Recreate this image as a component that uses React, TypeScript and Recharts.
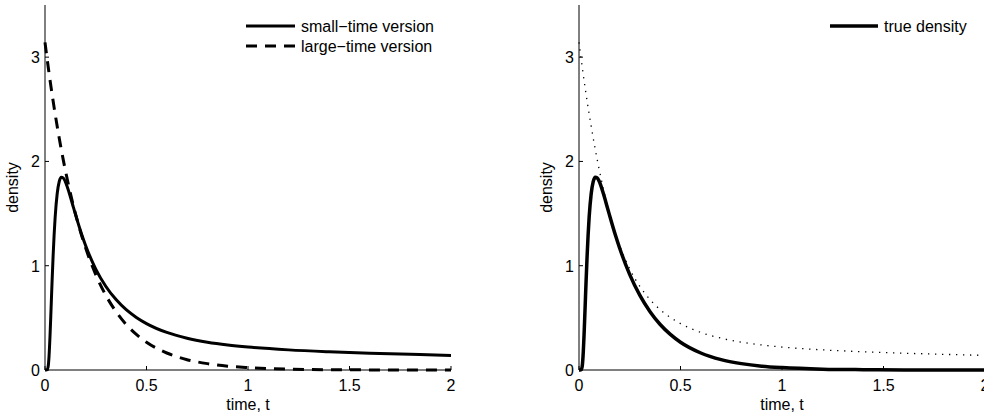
import React from "react"
import { LineChart, Line, XAxis, YAxis, Legend } from "recharts"

// time grid and densities
const tValues = [
  0, 0.005, 0.01, 0.015, 0.02, 0.025, 0.03, 0.035, 0.04, 0.045, 0.05, 0.06, 0.07, 0.08, 0.09, 0.1,
  0.12, 0.14, 0.16, 0.18, 0.2, 0.25, 0.3, 0.35, 0.4, 0.45, 0.5, 0.6, 0.7, 0.8, 0.9, 1.0, 1.2, 1.4,
  1.6, 1.8, 2.0,
]
const smallTime = [
  0, 0, 0.001, 0.026, 0.136, 0.34, 0.595, 0.857, 1.096, 1.299, 1.465, 1.69, 1.806, 1.848, 1.842,
  1.807, 1.693, 1.559, 1.427, 1.304, 1.194, 0.968, 0.801, 0.675, 0.578, 0.504, 0.445, 0.36, 0.305,
  0.267, 0.24, 0.22, 0.193, 0.175, 0.161, 0.15, 0.14,
]
const largeTime = [
  3.142, 3.065, 2.99, 2.918, 2.846, 2.777, 2.709, 2.643, 2.579, 2.516, 2.455, 2.337, 2.224, 2.117,
  2.015, 1.918, 1.738, 1.574, 1.427, 1.292, 1.171, 0.915, 0.715, 0.559, 0.436, 0.341, 0.266, 0.163,
  0.099, 0.061, 0.037, 0.023, 0.008, 0.003, 0.001, 0.0004, 0.0002,
]
const trueDensity = [
  0, 0, 0.001, 0.026, 0.136, 0.34, 0.595, 0.857, 1.096, 1.299, 1.465, 1.69, 1.806, 1.848, 1.842,
  1.807, 1.692, 1.556, 1.419, 1.289, 1.17, 0.915, 0.715, 0.559, 0.436, 0.341, 0.266, 0.163, 0.099,
  0.061, 0.037, 0.023, 0.008, 0.003, 0.001, 0.0004, 0.0002,
]
const upperEnvelope = [
  3.142, 3.065, 2.99, 2.918, 2.846, 2.777, 2.709, 2.643, 2.579, 2.516, 2.455, 2.337, 2.224, 2.117,
  2.015, 1.918, 1.738, 1.574, 1.427, 1.304, 1.194, 0.968, 0.801, 0.675, 0.578, 0.504, 0.445, 0.36,
  0.305, 0.267, 0.24, 0.22, 0.193, 0.175, 0.161, 0.15, 0.14,
]

const xTicks = [0, 0.5, 1, 1.5, 2]
const yTicks = [0, 1, 2, 3]

const data = tValues.map((t, i) => ({
  t,
  small: smallTime[i],
  large: largeTime[i],
  truth: trueDensity[i],
  bound: upperEnvelope[i],
}))

const FONT = "'Liberation Sans', Arial, Helvetica, sans-serif"
const DASH = "11 8"

function XTick({ x, y, payload }: any) {
  return (
    <g>
      <line x1={x} x2={x} y1={y} y2={y - 4} stroke="#000" strokeWidth={1} />
      <text x={x} y={y + 21} textAnchor="middle" fontSize={16} fill="#000">
        {payload.value}
      </text>
    </g>
  )
}

function YTick({ x, y, payload }: any) {
  return (
    <g>
      <line x1={x} x2={x + 4} y1={y} y2={y} stroke="#000" strokeWidth={1} />
      <text x={x - 5} y={y + 6} textAnchor="end" fontSize={16} fill="#000">
        {payload.value}
      </text>
    </g>
  )
}

interface LegendItem {
  label: string
  width: number
  len: number
  dash?: string
}

function LegendBox({ items }: { items: LegendItem[] }) {
  return (
    <div style={{ fontSize: 16, color: "#000", whiteSpace: "nowrap", fontFamily: FONT }}>
      {items.map((it) => (
        <div key={it.label} style={{ display: "flex", alignItems: "center", height: 20 }}>
          <svg width={it.len} height={20} style={{ display: "block" }}>
            <line x1={0} x2={it.len} y1={10} y2={10} stroke="#000" strokeWidth={it.width} strokeDasharray={it.dash} />
          </svg>
          <span style={{ marginLeft: 6, lineHeight: "20px", position: "relative", top: 1 }}>{it.label}</span>
        </div>
      ))}
    </div>
  )
}

const leftLegend: LegendItem[] = [
  { label: "small\u2212time version", width: 3, len: 49 },
  { label: "large\u2212time version", width: 3, len: 49, dash: DASH },
]
const rightLegend: LegendItem[] = [{ label: "true density", width: 3.3, len: 48 }]

function Panel({ left, children, legend, legendLeft }: any) {
  return (
    <div style={{ position: "absolute", left, top: 0 }}>
      <LineChart width={500} height={414} data={data} margin={{ top: 5, right: 49, bottom: 14, left: 0 }}>
        <XAxis
          dataKey="t"
          type="number"
          domain={[0, 2]}
          ticks={xTicks}
          height={30}
          tickSize={0}
          tickMargin={0}
          tickLine={false}
          tick={<XTick />}
          axisLine={{ stroke: "#000", strokeWidth: 1 }}
          label={{ value: "time, t", position: "insideBottom", offset: -10, fill: "#000", fontSize: 16 }}
        />
        <YAxis
          type="number"
          domain={[0, 3.5]}
          ticks={yTicks}
          width={45}
          tickSize={0}
          tickMargin={0}
          tickLine={false}
          tick={<YTick />}
          axisLine={{ stroke: "#000", strokeWidth: 1 }}
          label={{
            value: "density",
            angle: -90,
            position: "insideLeft",
            offset: 12,
            fill: "#000",
            fontSize: 16,
            style: { textAnchor: "middle" },
          }}
        />
        <Legend
          layout="vertical"
          align="center"
          verticalAlign="middle"
          wrapperStyle={{ left: legendLeft, top: 16, width: "auto" }}
          content={() => <LegendBox items={legend} />}
        />
        {children}
      </LineChart>
    </div>
  )
}

export default function App() {
  return (
    <div
      style={{
        position: "absolute",
        left: 0,
        top: 0,
        width: 984,
        height: 414,
        overflow: "hidden",
        background: "#fff",
        fontFamily: FONT,
      }}
    >
      <Panel left={0} legend={leftLegend} legendLeft={246}>
        <Line dataKey="small" type="monotone" stroke="#000" strokeWidth={3} dot={false} isAnimationActive={false} />
        <Line
          dataKey="large"
          type="monotone"
          stroke="#000"
          strokeWidth={3}
          strokeDasharray={DASH}
          dot={false}
          isAnimationActive={false}
        />
      </Panel>
      <Panel left={534} legend={rightLegend} legendLeft={296}>
        <Line
          dataKey="bound"
          type="monotone"
          stroke="#000"
          strokeWidth={1.3}
          strokeDasharray="1.3 5.7"
          dot={false}
          isAnimationActive={false}
        />
        <Line dataKey="truth" type="monotone" stroke="#000" strokeWidth={3.5} dot={false} isAnimationActive={false} />
      </Panel>
    </div>
  )
}
